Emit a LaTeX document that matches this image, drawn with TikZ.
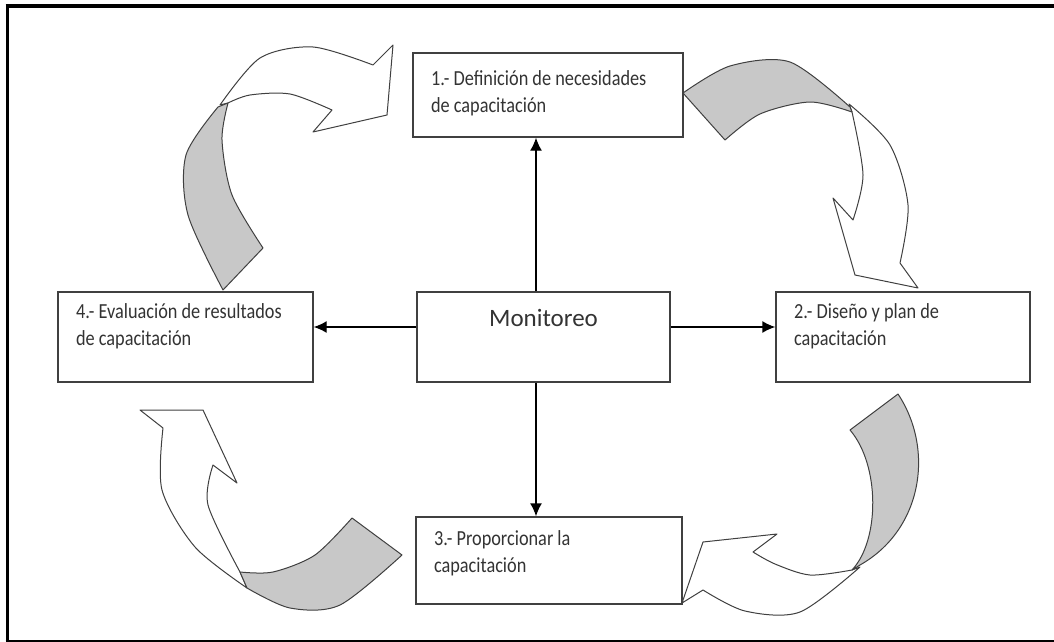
\documentclass[tikz,border=0pt]{standalone}
\usepackage{fontspec}
\setmainfont{Carlito}
\newfontfamily\stagefont[FakeStretch=0.85]{Carlito}
\usetikzlibrary{arrows.meta}
\definecolor{boxline}{HTML}{404040}
\definecolor{stagetext}{HTML}{333333}
\definecolor{ribbongray}{HTML}{C8C8C8}
\tikzset{
  stagebox/.style={draw=boxline, line width=1.4pt, inner xsep=18pt, inner ysep=0pt,
    text=stagetext, font=\stagefont\fontsize{21.5}{27}\selectfont},
  link/.style={line width=1.4pt, -{Latex[length=13pt,width=12pt]}},
  ribbon/.style={draw=boxline, line width=1pt, fill=white, line join=round},
  ribbonback/.style={ribbon, fill=ribbongray}
}
% width, height, top gap, text
\newcommand{\stagetxt}[4]{\parbox[c][#2pt][t]{#1pt}{\vspace*{#3pt}#4}}

\begin{document}
\begin{tikzpicture}[x=1pt, y=-1pt]

	\useasboundingbox (0,0) rectangle (1054,642);
	\draw[line width=3pt] (7,642) -- (7,4); % frame
	\draw[line width=4pt] (5.5,6) -- (1054,6);
	\draw[line width=2pt] (5.5,641) -- (1054,641);

	\node[stagebox] (def) at (548,95) {\stagetxt{234}{84}{18}{1.- Definición de necesidades\\de capacitación}};
	\node[stagebox] (dis) at (903,337) {\stagetxt{218}{90}{12}{2.- Diseño y plan de\\capacitación}};
	\node[stagebox] (pro) at (549,560.5) {\stagetxt{230}{87}{14}{3.- Proporcionar la\\capacitación}};
	\node[stagebox] (eva) at (185.5,337) {\stagetxt{219}{90}{12}{4.- Evaluación de resultados\\de capacitación}};
	\node[stagebox, font=\fontsize{25}{30}\selectfont] (mon) at (543.5,337) {\stagetxt{217}{90}{17}{\centering Monitoreo}};

	\coordinate (vx) at (536,0);
	\coordinate (hy) at (0,327);
	\draw[link] (mon.north -| vx) -- (def.south -| vx);
	\draw[link] (mon.south -| vx) -- (pro.north -| vx);
	\draw[link] (mon.east |- hy) -- (dis.west |- hy);
	\draw[link] (mon.west |- hy) -- (eva.east |- hy);

	% 4 -> 1
	\draw[ribbon] plot[smooth] coordinates {(220,105) (260,58) (313,47) (373,65)}
		-- (393,45) -- (387,115) -- (313,132) -- (332,110)
		-- plot[smooth] coordinates {(332,110) (290,94) (250,95) (228,103)} -- cycle;
	\draw[ribbonback] plot[smooth] coordinates {(218,107) (186,155) (188,215) (223,290)}
		-- (263,248) -- plot[smooth] coordinates {(263,248) (232,195) (222,140) (228,103)} -- cycle;

	% 1 -> 2
	\draw[ribbon] plot[smooth] coordinates {(849,104) (890,145) (908,205) (900,263)}
		-- (918,288) -- (855,275) -- (833,198) -- (853,220)
		-- plot[smooth] coordinates {(853,220) (863,175) (852,112)} -- cycle;
	\draw[ribbonback] plot[smooth] coordinates {(683,93) (730,66) (790,62) (850,107)}
		-- (852,112) -- plot[smooth] coordinates {(852,112) (810,102) (760,114) (725,140)} -- cycle;

	% 2 -> 3
	\draw[ribbon] plot[smooth] coordinates {(852,570) (810,575) (775,564) (753,552)}
		-- (777,534) -- (703,542) -- (682,603) -- (703,590)
		-- plot[smooth] coordinates {(703,590) (745,611) (800,612) (860,567)} -- cycle;
	\draw[ribbonback] (898,394) .. controls (935,450) and (922,530) .. (860,565)
		-- (852,570) .. controls (880,540) and (880,465) .. (850,430) -- cycle;

	% 3 -> 4
	\draw[ribbon] (163,428) -- (140,410) -- (203,410) -- (237,483) -- (213,465)
		-- plot[smooth] coordinates {(213,465) (208,505) (240,572)}
		-- (247,588) -- plot[smooth] coordinates {(247,588) (195,547) (162,490) (163,428)} -- cycle;
	\draw[ribbonback] plot[smooth] coordinates {(352,518) (315,555) (273,572) (240,572)}
		-- (247,588) -- plot[smooth] coordinates {(247,588) (290,608) (340,605) (402,555)} -- cycle;

\end{tikzpicture}
\end{document}
